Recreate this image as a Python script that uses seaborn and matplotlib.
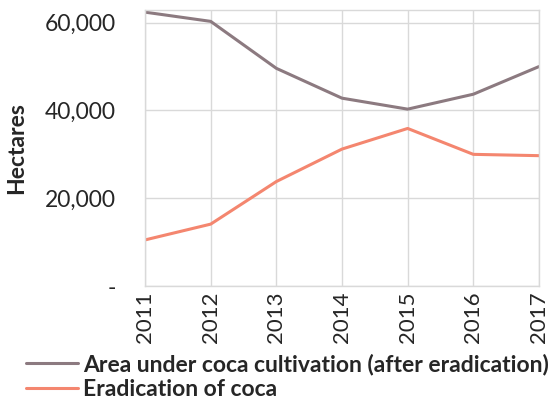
import matplotlib
matplotlib.use("Agg")
import matplotlib.pyplot as plt
import matplotlib.ticker as mticker
import pandas as pd
import seaborn as sns

years = [2011, 2012, 2013, 2014, 2015, 2016, 2017]
area_cultivation = [62400, 60300, 49600, 42800, 40300, 43700, 50000]
eradication = [10500, 14100, 23800, 31200, 35900, 30000, 29700]
series_names = ["Area under coca cultivation (after eradication)", "Eradication of coca"]
y_ticks = [0, 20000, 40000, 60000]

C_AREA = "#8C7A80"
C_ERAD = "#F4866F"
C_GRID = "#D9D9D9"

sns.set_theme(style="white")
plt.rcParams["font.family"] = ["Lato", "DejaVu Sans"]

df = pd.DataFrame({
    "year": years * 2,
    "value": area_cultivation + eradication,
    "series": [series_names[0]] * len(years) + [series_names[1]] * len(years),
})

fig = plt.figure(figsize=(5.52, 4.05), dpi=100)
ax = fig.add_axes([0.2627, 0.2938, 0.7137, 0.6827])

sns.lineplot(data=df, x="year", y="value", hue="series",
             palette=[C_AREA, C_ERAD], linewidth=2.2, ax=ax, legend=False)

ax.set_xlim(2011, 2017)
ax.set_ylim(0, 63000)
ax.set_xticks(years)
ax.set_xticklabels([str(y) for y in years], rotation=90, fontsize=16)
ax.set_yticks(y_ticks)
ax.yaxis.set_major_formatter(mticker.FuncFormatter(lambda v, p: "-" if v == 0 else f"{v:,.0f}"))
ax.tick_params(axis="y", labelsize=16.5, length=0, pad=21)
ax.tick_params(axis="x", length=0, pad=4)
ax.grid(True, color=C_GRID, linewidth=1)
for s in ax.spines.values():
    s.set_color(C_GRID)
    s.set_linewidth(1)
ax.set_xlabel("")
ax.set_ylabel("Hectares", fontsize=16.5, fontweight="bold")
ax.yaxis.set_label_coords(-0.30, 0.5)

handles = [plt.Line2D([], [], color=C_AREA, linewidth=2.2),
           plt.Line2D([], [], color=C_ERAD, linewidth=2.2)]
fig.legend(handles, series_names, loc="lower left", bbox_to_anchor=(0.03, -0.01),
           frameon=False, prop={"weight": "bold", "size": 16.5},
           handlelength=2.3, handletextpad=0.2, labelspacing=0.15, borderaxespad=0)

fig.savefig("out.png", dpi=100)
